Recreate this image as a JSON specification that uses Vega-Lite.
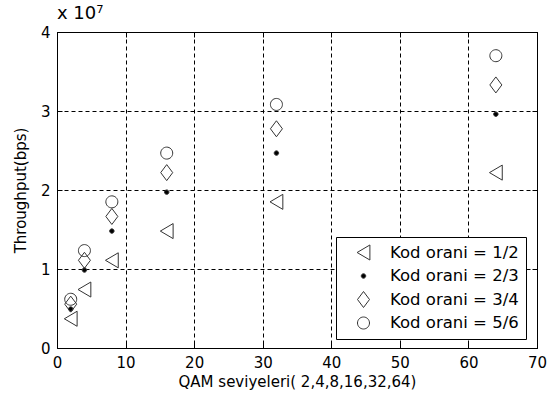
{
  "$schema": "https://vega.github.io/schema/vega-lite/v6.json",
  "autosize": "none",
  "width": 480,
  "height": 316,
  "padding": {"left": 57, "top": 32, "right": 11, "bottom": 59},
  "background": "white",
  "config": {
    "font": "DejaVu Sans",
    "view": {"stroke": "black", "strokeWidth": 1},
    "axis": {"domain": false, "labelColor": "black", "titleColor": "black", "tickColor": "black", "labelFont": "DejaVu Sans", "titleFont": "DejaVu Sans", "labelFontSize": 15, "titleFontSize": 15, "titleFontWeight": "normal"},
    "legend": {"labelFontSize": 16.5, "labelFont": "DejaVu Sans", "labelColor": "black"}
  },
  "title": {"text": "x 10⁷", "anchor": "start", "frame": "group", "fontSize": 18, "fontWeight": "normal", "font": "DejaVu Sans", "color": "black", "offset": 2},
  "data": {"values": [
    {"qam": 2, "label": "Kod orani = 1/2", "thr": 3700000},
    {"qam": 2, "label": "Kod orani = 2/3", "thr": 4930000},
    {"qam": 2, "label": "Kod orani = 3/4", "thr": 5550000},
    {"qam": 2, "label": "Kod orani = 5/6", "thr": 6170000},
    {"qam": 4, "label": "Kod orani = 1/2", "thr": 7400000},
    {"qam": 4, "label": "Kod orani = 2/3", "thr": 9870000},
    {"qam": 4, "label": "Kod orani = 3/4", "thr": 11100000},
    {"qam": 4, "label": "Kod orani = 5/6", "thr": 12330000},
    {"qam": 8, "label": "Kod orani = 1/2", "thr": 11100000},
    {"qam": 8, "label": "Kod orani = 2/3", "thr": 14800000},
    {"qam": 8, "label": "Kod orani = 3/4", "thr": 16650000},
    {"qam": 8, "label": "Kod orani = 5/6", "thr": 18500000},
    {"qam": 16, "label": "Kod orani = 1/2", "thr": 14800000},
    {"qam": 16, "label": "Kod orani = 2/3", "thr": 19730000},
    {"qam": 16, "label": "Kod orani = 3/4", "thr": 22200000},
    {"qam": 16, "label": "Kod orani = 5/6", "thr": 24670000},
    {"qam": 32, "label": "Kod orani = 1/2", "thr": 18500000},
    {"qam": 32, "label": "Kod orani = 2/3", "thr": 24670000},
    {"qam": 32, "label": "Kod orani = 3/4", "thr": 27750000},
    {"qam": 32, "label": "Kod orani = 5/6", "thr": 30830000},
    {"qam": 64, "label": "Kod orani = 1/2", "thr": 22200000},
    {"qam": 64, "label": "Kod orani = 2/3", "thr": 29600000},
    {"qam": 64, "label": "Kod orani = 3/4", "thr": 33300000},
    {"qam": 64, "label": "Kod orani = 5/6", "thr": 37000000}
  ]},
  "resolve": {"axis": {"x": "independent", "y": "independent"}},
  "layer": [
    {
      "mark": {"type": "point", "filled": false, "stroke": "#333", "strokeWidth": 1, "opacity": 0},
      "encoding": {
        "x": {"field": "qam", "type": "quantitative", "scale": {"domain": [0, 70], "nice": false, "zero": false},
              "axis": {"orient": "top", "labels": false, "title": null, "grid": false, "tickSize": -5, "values": [0, 10, 20, 30, 40, 50, 60, 70]}},
        "y": {"field": "thr", "type": "quantitative", "scale": {"domain": [0, 40000000], "nice": false},
              "axis": {"orient": "right", "labels": false, "title": null, "grid": false, "tickSize": -5, "values": [0, 10000000, 20000000, 30000000, 40000000]}}
      }
    },
    {
      "mark": {"type": "point", "filled": false, "strokeWidth": 1, "opacity": 1, "size": 256},
      "encoding": {
        "x": {"field": "qam", "type": "quantitative", "scale": {"domain": [0, 70], "nice": false, "zero": false},
              "axis": {"orient": "bottom", "title": "QAM seviyeleri( 2,4,8,16,32,64)", "values": [0, 10, 20, 30, 40, 50, 60, 70], "grid": true, "gridColor": "black", "gridDash": [4, 3], "gridOpacity": 1, "gridWidth": 1, "tickSize": -5, "labelPadding": 12, "titlePadding": 4, "labelFlush": false}},
        "y": {"field": "thr", "type": "quantitative", "scale": {"domain": [0, 40000000], "nice": false},
              "axis": {"orient": "left", "title": "Throughput(bps)", "values": [0, 10000000, 20000000, 30000000, 40000000], "labelExpr": "format(datum.value / 10000000, 'd')", "grid": true, "gridColor": "black", "gridDash": [4, 3], "gridOpacity": 1, "gridWidth": 1, "tickSize": -5, "labelPadding": 12, "titlePadding": 12, "labelFlush": false}},
        "shape": {"field": "label", "type": "nominal",
                  "scale": {"domain": ["Kod orani = 1/2", "Kod orani = 2/3", "Kod orani = 3/4", "Kod orani = 5/6"],
                            "range": ["M-0.8,0L0.8,-0.94L0.8,0.94Z", "M-0.28,0A0.28,0.28 0 1,0 0.28,0A0.28,0.28 0 1,0 -0.28,0Z", "M0,-1L0.75,0L0,1L-0.75,0Z", "M-0.75,0A0.75,0.75 0 1,0 0.75,0A0.75,0.75 0 1,0 -0.75,0Z"]},
                  "legend": {"title": null, "orient": "none", "legendX": 279, "legendY": 205, "strokeColor": "black", "fillColor": "white", "padding": 7, "symbolOffset": 12, "labelOffset": 18, "rowPadding": 4.5, "symbolSize": 256, "labelFontSize": 16.5, "labelFont": "DejaVu Sans", "labelColor": "black", "symbolStrokeWidth": 1, "cornerRadius": 0}},
        "stroke": {"field": "label", "type": "nominal",
                 "scale": {"domain": ["Kod orani = 1/2", "Kod orani = 2/3", "Kod orani = 3/4", "Kod orani = 5/6"], "range": ["#333333", "#333333", "#333333", "#333333"]},
                 "legend": {"title": null}},
        "fill": {"field": "label", "type": "nominal",
                 "scale": {"domain": ["Kod orani = 1/2", "Kod orani = 2/3", "Kod orani = 3/4", "Kod orani = 5/6"], "range": ["transparent", "#000000", "transparent", "transparent"]},
                 "legend": {"title": null}}
      }
    }
  ]
}
